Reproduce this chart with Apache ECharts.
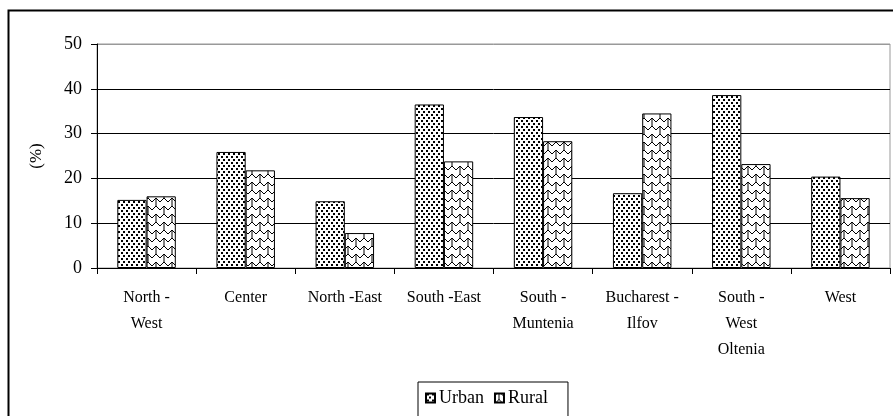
<!DOCTYPE html>
<html>
<head>
<meta charset="utf-8">
<script src="https://cdn.jsdelivr.net/npm/echarts@6/dist/echarts.min.js"></script>
<style>
  html, body { margin: 0; padding: 0; background: #fff; }
  #chart { width: 893px; height: 416px; }
</style>
</head>
<body>
<div id="chart"></div>
<script>
const regions = ['North -\nWest', 'Center', 'North -East', 'South -East', 'South -\nMuntenia', 'Bucharest -\nIlfov', 'South -\nWest\nOltenia', 'West']
const urban = [15.2, 25.9, 14.9, 36.5, 33.7, 16.7, 38.6, 20.4]
const rural = [16.0, 21.8, 7.8, 23.8, 28.3, 34.5, 23.2, 15.6]
const yTicks = [0, 10, 20, 30, 40, 50]

// dotted fill for Urban
function dotPattern() {
  const c = document.createElement('canvas')
  c.width = 10
  c.height = 6
  const ctx = c.getContext('2d')
  ctx.fillStyle = '#fff'
  ctx.fillRect(0, 0, 10, 6)
  ctx.fillStyle = '#000'
  ctx.fillRect(1, 0, 2, 2)
  ctx.fillRect(6, 0, 2, 2)
  ctx.fillRect(3, 3, 2, 2)
  ctx.fillRect(8, 3, 2, 2)
  return c
}

// shingle fill for Rural
function shinglePattern() {
  const s = 16
  const c = document.createElement('canvas')
  c.width = s
  c.height = s
  const ctx = c.getContext('2d')
  ctx.fillStyle = '#fff'
  ctx.fillRect(0, 0, s, s)
  ctx.strokeStyle = '#000'
  ctx.lineWidth = 1
  ctx.lineJoin = 'round'
  ;[0, 8, 16].forEach((y, i) => {
    const off = i % 2 ? 8 : 0
    ctx.beginPath()
    for (let x = -16; x <= 32; x += 16) {
      ctx.moveTo(x + off, y + 2)
      ctx.lineTo(x + off + 4, y - 2)
      ctx.lineTo(x + off + 8, y + 2)
      ctx.lineTo(x + off + 12, y - 2)
      ctx.lineTo(x + off + 16, y + 2)
    }
    ctx.stroke()
  })
  ctx.beginPath()
  ctx.moveTo(4, -2); ctx.lineTo(4, 6)
  ctx.moveTo(12, 6); ctx.lineTo(12, 14)
  ctx.moveTo(4, 14); ctx.lineTo(4, 18)
  ctx.stroke()
  return c
}

const urbanFill = { image: dotPattern(), repeat: 'repeat' }
const ruralFill = { image: shinglePattern(), repeat: 'repeat' }

const myChart = echarts.init(document.getElementById('chart'))
const font = 'Liberation Serif'

const option = {
  animation: false,
  textStyle: { fontFamily: font },
  graphic: [
    {
      type: 'rect',
      shape: { x: 8.5, y: 10.5, width: 900, height: 420 },
      style: { fill: 'none', stroke: '#000', lineWidth: 2 },
      silent: true
    }
  ],
  legend: {
    left: 418,
    top: 382,
    data: ['Urban', 'Rural'],
    icon: 'rect',
    itemWidth: 9,
    itemHeight: 9,
    itemGap: 10,
    padding: [7, 20, 10, 7],
    borderColor: '#000',
    borderWidth: 1,
    textStyle: { fontFamily: font, fontSize: 18, color: '#000', padding: [0, 0, 0, -1] }
  },
  grid: {
    left: 97,
    right: 3,
    top: 44,
    bottom: 148,
    show: true,
    borderColor: '#999',
    borderWidth: 1,
    containLabel: false
  },
  xAxis: {
    type: 'category',
    data: regions,
    axisLine: { lineStyle: { color: '#000', width: 1 } },
    axisTick: { show: true, length: 6, lineStyle: { color: '#000' } },
    axisLabel: {
      color: '#000',
      fontFamily: font,
      fontSize: 16,
      lineHeight: 26,
      margin: 17,
      interval: 0
    }
  },
  yAxis: {
    type: 'value',
    min: yTicks[0],
    max: yTicks[yTicks.length - 1],
    interval: 10,
    name: '(%)',
    nameLocation: 'middle',
    nameRotate: 90,
    nameGap: 52,
    nameTextStyle: { fontFamily: font, fontSize: 17, color: '#000' },
    axisLine: { show: true, lineStyle: { color: '#000', width: 1 } },
    axisTick: { show: true, length: 6, lineStyle: { color: '#000' } },
    axisLabel: { color: '#000', fontFamily: font, fontSize: 18, margin: 15 },
    splitLine: { show: true, lineStyle: { color: ['#000', '#000', '#000', '#000', '#000', '#999'], width: 1 } }
  },
  series: [
    {
      name: 'Urban',
      type: 'bar',
      data: urban,
      barGap: '0%',
      barCategoryGap: '41%',
      itemStyle: { color: urbanFill, borderColor: '#000', borderWidth: 1 }
    },
    {
      name: 'Rural',
      type: 'bar',
      data: rural,
      itemStyle: { color: ruralFill, borderColor: '#000', borderWidth: 1 }
    }
  ]
}

myChart.setOption(option)
</script>
</body>
</html>
